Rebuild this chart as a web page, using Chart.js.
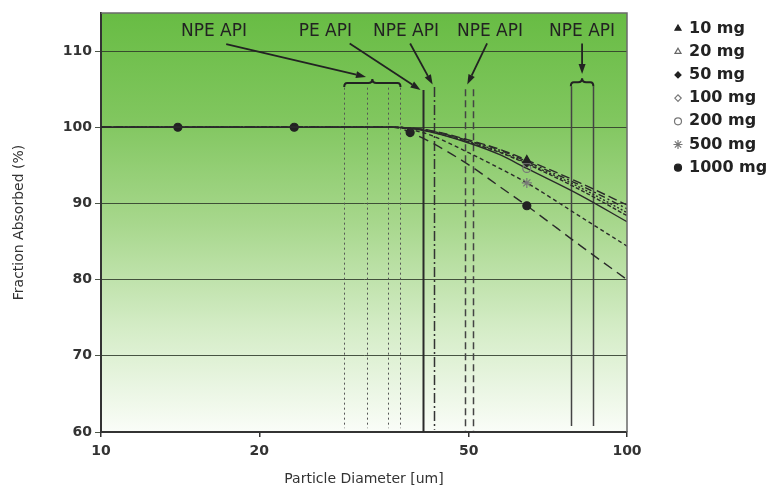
<!DOCTYPE html>
<html><head><meta charset="utf-8">
<script src="https://cdn.jsdelivr.net/npm/chart.js@4.4.1/dist/chart.umd.min.js"></script>
<style>html,body{margin:0;padding:0;background:#fff}#wrap{width:770px;height:489px;position:relative}</style>
</head><body><div id="wrap"><canvas id="c" width="770" height="489"></canvas></div>
<script>
// ---------------- DATA ----------------
const diameters = [10, 14, 23.3, 36, 38.7, 42.2, 50.2, 57.3, 64.5, 81.4, 100];
const seriesLabels = ['10 mg', '20 mg', '50 mg', '100 mg', '200 mg', '500 mg', '1000 mg'];
const absorbed10mg   = [100, 100, 100, 100, 99.9,  99.6,  98.3, 97.1, 95.7, 92.7, 89.8];
const absorbed20mg   = [100, 100, 100, 100, 99.9,  99.55, 98.2, 97.0, 95.5, 92.4, 89.3];
const absorbed50mg   = [100, 100, 100, 100, 99.9,  99.5,  98.1, 96.8, 95.3, 92.1, 88.8];
const absorbed100mg  = [100, 100, 100, 100, 99.9,  99.45, 98.0, 96.7, 95.2, 91.8, 88.4];
const absorbed200mg  = [100, 100, 100, 100, 99.85, 99.4,  97.9, 96.4, 94.6, 91.1, 87.6];
const absorbed500mg  = [100, 100, 100, 100, 99.7,  99.0,  96.6, 94.6, 92.7, 88.3, 84.4];
const absorbed1000mg = [100, 100, 100, 100, 99.3,  98.1,  95.0, 92.2, 89.7, 84.5, 80.0];
const markedSmall = [64.5];
const marked1000mg = [14, 23.3, 38.7, 64.5];
const xTicks = [10, 20, 50, 100];
const yTicks = [60, 70, 80, 90, 100, 110];
const apiLabels = ['NPE API', 'PE API', 'NPE API', 'NPE API', 'NPE API'];
const apiSizes = [[29.0, 32.0, 35.1, 37.1], [40.9], [43.0], [49.1, 51.0], [78.2, 86.3]];

// ---------------- STYLE / LAYOUT ----------------
const seriesValues = [absorbed10mg, absorbed20mg, absorbed50mg, absorbed100mg, absorbed200mg, absorbed500mg, absorbed1000mg];
const seriesMarked = [markedSmall, markedSmall, markedSmall, markedSmall, markedSmall, markedSmall, marked1000mg];
const seriesStyle = [
  {dash: [9, 4],        ps: 'triangle', r: 4.5, bg: '#222', bc: '#222', lr: 3.5},
  {dash: [7, 3, 2, 3],  ps: 'triangle', r: 4,   bg: 'rgba(0,0,0,0)', bc: '#666', lr: 3.5},
  {dash: [2, 2],        ps: 'rectRot',  r: 3.5, bg: '#222', bc: '#222', lr: 3},
  {dash: [4, 2],        ps: 'rectRot',  r: 3.5, bg: 'rgba(0,0,0,0)', bc: '#777', lr: 3.2},
  {dash: [],            ps: 'circle',   r: 4,   bg: 'rgba(0,0,0,0)', bc: '#777', lr: 3.5},
  {dash: [4, 3],        ps: 'star',     r: 5,   bg: 'rgba(0,0,0,0)', bc: '#777', lr: 4.5},
  {dash: [10, 6],       ps: 'circle',   r: 4,   bg: '#222', bc: '#222', lr: 3.5}
];
const apiLayout = [
  {labelAt: 16.4, from: [17.3, 110.9], to: [31.9, 106.6], brace: 105.8, top: 105.2, bottom: 60.5, dash: [2, 3], width: 1, color: '#555'},
  {labelAt: 26.7, from: [29.7, 111.0], to: [40.5, 104.9], top: 104.9, bottom: 60, dash: [], width: 2, color: '#2a2a2a'},
  {labelAt: 38.0, from: [38.7, 111.0], to: [42.7, 105.6], top: 105.3, bottom: 60.3, dash: [10, 3, 2, 3], width: 1.5, color: '#333'},
  {labelAt: 54.9, from: [54.2, 111.0], to: [49.7, 105.6], top: 105.0, bottom: 60.2, dash: [7, 4], width: 1.5, color: '#444'},
  {labelAt: 82.15, from: [82.15, 111.0], to: [82.15, 107.0], brace: 105.9, top: 105.4, bottom: 60.8, dash: [], width: 1.5, color: '#444'}
];
const labelY = 112.5;
const FONT = '"DejaVu Sans", "Liberation Sans", sans-serif';

const datasets = seriesLabels.map((label, i) => {
  const st = seriesStyle[i];
  return {
    label,
    data: diameters.map((d, k) => ({x: d, y: seriesValues[i][k]})),
    borderColor: '#2a2a2a',
    borderWidth: 1.4,
    borderDash: st.dash,
    cubicInterpolationMode: 'monotone',
    fill: false,
    pointStyle: st.ps,
    pointRadius: diameters.map(d => seriesMarked[i].includes(d) ? st.r : 0),
    pointBackgroundColor: st.bg,
    pointBorderColor: st.bc,
    pointBorderWidth: 1.2,
    legendRadius: st.lr
  };
});

function drawMarker(ctx, style, r, x, y) {
  if (Chart.helpers && Chart.helpers.drawPoint) {
    Chart.helpers.drawPoint(ctx, {pointStyle: style, radius: r, borderWidth: 1.2, rotation: 0}, x, y);
  } else {
    ctx.beginPath(); ctx.arc(x, y, r, 0, Math.PI * 2); ctx.fill(); ctx.stroke();
  }
}

const bgPlugin = {
  id: 'bg',
  beforeDraw(chart) {
    const {ctx, chartArea: a} = chart;
    const g = ctx.createLinearGradient(0, a.top, 0, a.bottom);
    g.addColorStop(0, 'rgb(104,188,68)');
    g.addColorStop(0.25, 'rgb(128,198,94)');
    g.addColorStop(0.5, 'rgb(167,215,140)');
    g.addColorStop(0.75, 'rgb(212,236,198)');
    g.addColorStop(1, 'rgb(250,253,248)');
    ctx.save(); ctx.fillStyle = g; ctx.fillRect(a.left, a.top, a.right - a.left, a.bottom - a.top); ctx.restore();
  },
  afterDraw(chart) {
    const {ctx, chartArea: a} = chart;
    ctx.save(); ctx.strokeStyle = '#6a6a6a'; ctx.lineWidth = 1.5;
    ctx.beginPath(); ctx.moveTo(a.left, a.top); ctx.lineTo(a.right, a.top); ctx.lineTo(a.right, a.bottom); ctx.stroke();
    ctx.restore();
  }
};

const apiPlugin = {
  id: 'api',
  beforeDatasetsDraw(chart) {
    const {ctx, scales: {x, y}} = chart;
    ctx.save();
    apiSizes.forEach((sizes, g) => {
      const L = apiLayout[g];
      ctx.strokeStyle = L.color; ctx.lineWidth = L.width; ctx.setLineDash(L.dash);
      sizes.forEach(s => {
        const px = Math.round(x.getPixelForValue(s)) + 0.5;
        ctx.beginPath(); ctx.moveTo(px, y.getPixelForValue(L.top)); ctx.lineTo(px, y.getPixelForValue(L.bottom)); ctx.stroke();
      });
      ctx.setLineDash([]);
    });
    ctx.restore();
  },
  afterDatasetsDraw(chart) {
    const {ctx, scales: {x, y}} = chart;
    ctx.save();
    apiSizes.forEach((sizes, g) => {
      const L = apiLayout[g];
      ctx.setLineDash([]);
      ctx.strokeStyle = '#222'; ctx.fillStyle = '#222';
      if (L.brace !== undefined) {
        const x0 = x.getPixelForValue(sizes[0]), x1 = x.getPixelForValue(sizes[sizes.length - 1]);
        const xc = (x0 + x1) / 2, yb = y.getPixelForValue(L.brace);
        ctx.lineWidth = 2;
        ctx.beginPath();
        ctx.moveTo(x0, yb + 4); ctx.quadraticCurveTo(x0, yb, x0 + 3, yb);
        ctx.lineTo(xc - 4, yb); ctx.quadraticCurveTo(xc, yb, xc, yb - 4);
        ctx.quadraticCurveTo(xc, yb, xc + 4, yb);
        ctx.lineTo(x1 - 3, yb); ctx.quadraticCurveTo(x1, yb, x1, yb + 4);
        ctx.stroke();
      }
      // arrow
      const fx = x.getPixelForValue(L.from[0]), fy = y.getPixelForValue(L.from[1]);
      const tx = x.getPixelForValue(L.to[0]), ty = y.getPixelForValue(L.to[1]);
      const ang = Math.atan2(ty - fy, tx - fx), len = 10, hw = 3.5;
      const bx = tx - Math.cos(ang) * len, by = ty - Math.sin(ang) * len;
      ctx.lineWidth = 1.8;
      ctx.beginPath(); ctx.moveTo(fx, fy); ctx.lineTo(bx, by); ctx.stroke();
      ctx.beginPath();
      ctx.moveTo(tx, ty);
      ctx.lineTo(bx + Math.sin(ang) * hw, by - Math.cos(ang) * hw);
      ctx.lineTo(bx - Math.sin(ang) * hw, by + Math.cos(ang) * hw);
      ctx.closePath(); ctx.fill();
      // label
      ctx.font = '17px ' + FONT; ctx.textAlign = 'center'; ctx.textBaseline = 'middle'; ctx.fillStyle = '#222';
      ctx.fillText(apiLabels[g], x.getPixelForValue(L.labelAt), y.getPixelForValue(labelY));
    });
    ctx.restore();
  }
};

const legendPlugin = {
  id: 'sideLegend',
  afterDraw(chart) {
    const {ctx, chartArea: a} = chart;
    ctx.save();
    chart.data.datasets.forEach((ds, i) => {
      const yy = 28.5 + i * 23.2;
      const mx = a.right + 51;
      ctx.fillStyle = ds.pointBackgroundColor; ctx.strokeStyle = ds.pointBorderColor; ctx.lineWidth = 1.2;
      drawMarker(ctx, ds.pointStyle, ds.legendRadius, mx, yy);
      ctx.fillStyle = '#222'; ctx.font = 'bold 16px ' + FONT; ctx.textAlign = 'left'; ctx.textBaseline = 'middle';
      ctx.fillText(ds.label, mx + 11, yy);
    });
    ctx.restore();
  }
};

new Chart(document.getElementById('c'), {
  type: 'line',
  data: {datasets},
  plugins: [bgPlugin, apiPlugin, legendPlugin],
  options: {
    responsive: false, animation: false,
    layout: {padding: {top: 13, right: 143, left: 0, bottom: 0}},
    plugins: {legend: {display: false}, tooltip: {enabled: false}},
    scales: {
      x: {
        type: 'logarithmic', min: 10, max: 100,
        afterBuildTicks: s => { s.ticks = xTicks.map(v => ({value: v})); },
        afterFit: s => { s.height = 57; },
        ticks: {callback: v => String(v), font: {family: FONT, weight: 'bold', size: 14}, color: '#333', padding: 6, autoSkip: false, maxRotation: 0},
        grid: {drawOnChartArea: false, drawTicks: true, tickLength: 5, color: '#333', lineWidth: 1.5},
        border: {color: '#333', width: 2},
        title: {display: true, text: 'Particle Diameter [um]', font: {family: FONT, size: 14}, color: '#333', padding: {top: 0, bottom: 1}}
      },
      y: {
        type: 'linear', min: 60, max: 115,
        afterBuildTicks: s => { s.ticks = yTicks.map(v => ({value: v})); },
        afterFit: s => { s.width = 101; },
        ticks: {font: {family: FONT, weight: 'bold', size: 14}, color: '#333', padding: 3},
        grid: {color: 'rgba(45,55,40,0.85)', lineWidth: 1, tickLength: 6, drawTicks: true},
        border: {color: '#333', width: 2},
        title: {display: true, text: 'Fraction Absorbed (%)', font: {family: FONT, size: 14}, color: '#333', padding: {top: 11, bottom: 0}}
      }
    }
  }
});
</script>
</body></html>
